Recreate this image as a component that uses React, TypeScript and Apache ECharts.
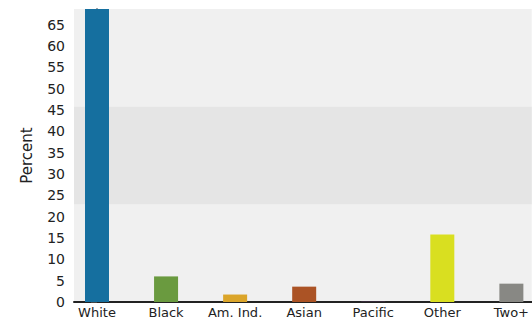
import React, { useEffect, useRef } from "react";
import * as echarts from "echarts";

const categories = ["White", "Black", "Am. Ind.", "Asian", "Pacific", "Other", "Two+"];
const values = [68.7, 6.0, 1.75, 3.6, 0.05, 15.8, 4.3];
const barColors = ["#156f9f", "#6a9a3f", "#dba52a", "#ab5325", "#7d4a8c", "#d9df20", "#888884"];
const yTicks = [0, 5, 10, 15, 20, 25, 30, 35, 40, 45, 50, 55, 60, 65];
const band = [22.9, 45.8];

export default function App() {
  const ref = useRef<HTMLDivElement>(null);
  useEffect(() => {
    if (!ref.current) return;
    const chart = echarts.init(ref.current, undefined, { renderer: "svg" });
    const font = "DejaVu Sans";
    chart.setOption({
      animation: false,
      grid: {
        left: 74,
        right: 0,
        top: 9,
        bottom: 17,
        show: true,
        backgroundColor: "#f0f0f0",
        borderWidth: 0,
      },
      xAxis: {
        type: "value",
        min: -0.333,
        max: 6.295,
        minInterval: 1,
        maxInterval: 1,
        splitLine: { show: false },
        axisTick: { show: false },
        axisLine: { show: true, onZero: false, lineStyle: { color: "#222", width: 2 } },
        axisLabel: {
          show: true,
          color: "#222",
          fontFamily: font,
          fontSize: 13,
          margin: 4,
          customValues: categories.map((_, i) => i),
          formatter: (v: number) => {
            const i = Math.round(v);
            return Math.abs(v - i) < 1e-6 && categories[i] !== undefined ? categories[i] : "";
          },
        },
      },
      yAxis: {
        type: "value",
        min: 0,
        max: 68.7,
        name: "Percent",
        nameLocation: "middle",
        nameGap: 40,
        nameTextStyle: { color: "#222", fontFamily: font, fontSize: 15 },
        splitLine: { show: false },
        axisLine: { show: true, lineStyle: { color: "#222", width: 1.5 } },
        axisTick: { show: true, length: 6, lineStyle: { color: "#444" }, customValues: yTicks },
        axisLabel: {
          color: "#222",
          fontFamily: font,
          fontSize: 14,
          margin: 9,
          customValues: yTicks,
        },
      },
      series: [
        {
          type: "line",
          data: [],
          silent: true,
          markArea: {
            silent: true,
            itemStyle: { color: "#e5e5e5" },
            data: [[{ yAxis: band[0], xAxis: -0.333 }, { yAxis: band[1], xAxis: 6.295 }]],
          },
        },
        {
          type: "bar",
          barWidth: 24,
          z: 5,
          data: values.map((v, i) => ({ value: [i, v], itemStyle: { color: barColors[i] } })),
        },
      ],
    });
    return () => chart.dispose();
  }, []);
  return (
    <div
      ref={ref}
      style={{ position: "absolute", left: 0, top: 0, width: 532, height: 319 }}
    />
  );
}
